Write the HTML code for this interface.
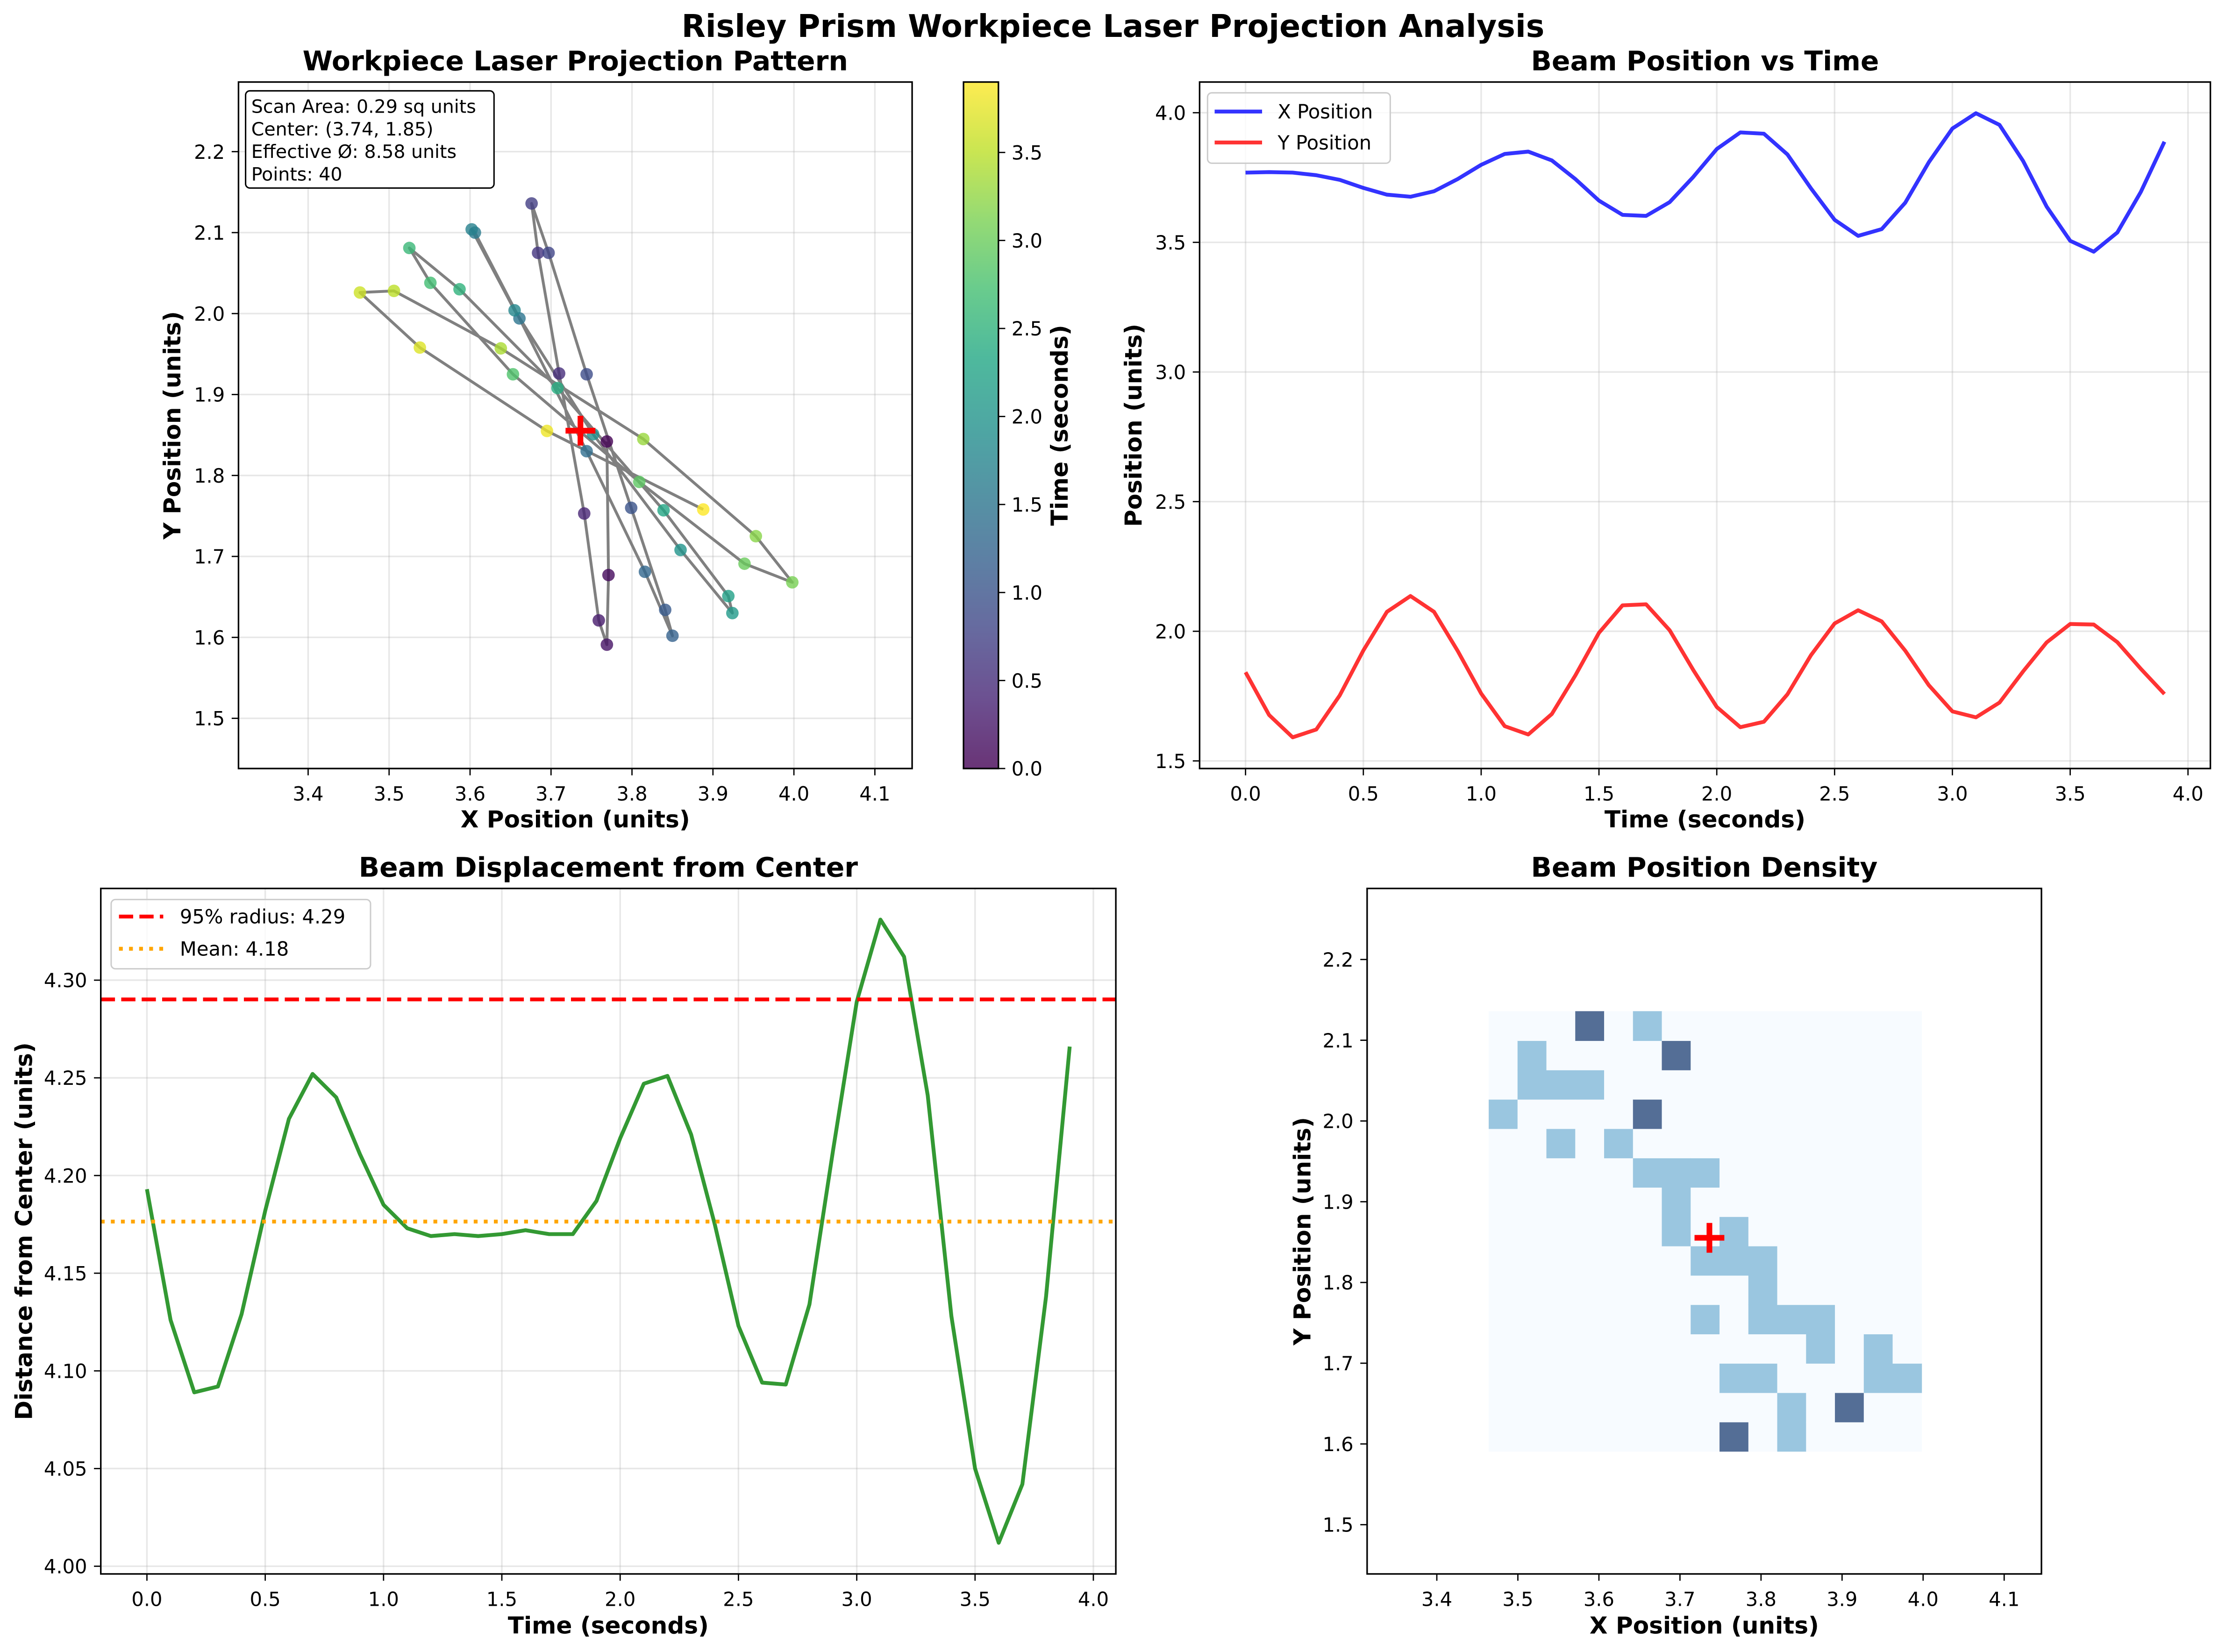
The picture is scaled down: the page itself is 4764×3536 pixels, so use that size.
<!DOCTYPE html>
<html><head><meta charset="utf-8"><title>Risley Prism Workpiece Laser Projection Analysis</title>
<style>
html,body{margin:0;padding:0;background:#fff;}
svg{display:block;}
text{font-family:"DejaVu Sans","Liberation Sans",sans-serif;}
</style></head>
<body>
<svg id="fig" xmlns="http://www.w3.org/2000/svg" width="4764" height="3536" viewBox="0 0 1568 1164" preserveAspectRatio="none">
<rect x="0" y="0" width="1568" height="1164" fill="#fff"/>
<text x="784" y="26" font-size="21.9" font-weight="bold" text-anchor="middle">Risley Prism Workpiece Laser Projection Analysis</text>
</svg>
<script>
// ---- data ----
const times = [0.0,0.1,0.2,0.3,0.4,0.5,0.6,0.7,0.8,0.9,1.0,1.1,1.2,1.3,1.4,1.5,1.6,1.7,1.8,1.9,2.0,2.1,2.2,2.3,2.4,2.5,2.6,2.7,2.8,2.9,3.0,3.1,3.2,3.3,3.4,3.5,3.6,3.7,3.8,3.9];
const xPos = [3.769,3.771,3.769,3.759,3.741,3.710,3.684,3.676,3.697,3.744,3.799,3.841,3.850,3.816,3.744,3.661,3.606,3.602,3.655,3.752,3.860,3.924,3.919,3.839,3.708,3.587,3.525,3.551,3.653,3.809,3.939,3.998,3.953,3.814,3.638,3.506,3.464,3.538,3.695,3.888];
const yPos = [1.842,1.677,1.591,1.621,1.753,1.926,2.075,2.136,2.075,1.925,1.760,1.634,1.602,1.681,1.830,1.994,2.100,2.104,2.004,1.851,1.708,1.630,1.651,1.757,1.908,2.030,2.081,2.038,1.925,1.792,1.691,1.668,1.725,1.845,1.957,2.028,2.026,1.958,1.855,1.758];
const distance = [4.193,4.126,4.089,4.092,4.129,4.182,4.229,4.252,4.240,4.211,4.185,4.173,4.169,4.170,4.169,4.170,4.172,4.170,4.170,4.187,4.219,4.247,4.251,4.221,4.175,4.123,4.094,4.093,4.134,4.213,4.289,4.331,4.312,4.241,4.128,4.050,4.012,4.042,4.138,4.266];
const xyTicks = [3.4,3.5,3.6,3.7,3.8,3.9,4.0,4.1];
const yyTicks = [1.5,1.6,1.7,1.8,1.9,2.0,2.1,2.2];
const timeTicks = [0.0,0.5,1.0,1.5,2.0,2.5,3.0,3.5,4.0];
const posTicks = [1.5,2.0,2.5,3.0,3.5,4.0];
const distTicks = [4.00,4.05,4.10,4.15,4.20,4.25,4.30];
const cbarTicks = [0.0,0.5,1.0,1.5,2.0,2.5,3.0,3.5];
const infoLines = ["Scan Area: 0.29 sq units","Center: (3.74, 1.85)","Effective Ø: 8.58 units","Points: 40"];

// ---- helpers ----
const NS = "http://www.w3.org/2000/svg";
const svg = document.getElementById('fig');
function mk(tag, attrs, parent){
  const e = document.createElementNS(NS, tag);
  for (const k in attrs) e.setAttribute(k, attrs[k]);
  (parent||svg).appendChild(e);
  return e;
}
function scale(d0,d1,p0,p1){ return v => p0 + (v-d0)/(d1-d0)*(p1-p0); }
const VIR = ['#440154','#482475','#414487','#355f8d','#2a788e','#21918c','#22a884','#44bf70','#7ad151','#bddf26','#fde725'];
function hex2rgb(h){return [parseInt(h.substr(1,2),16),parseInt(h.substr(3,2),16),parseInt(h.substr(5,2),16)];}
function viridis(t){
  t=Math.max(0,Math.min(1,t)); const f=t*10; const i=Math.min(9,Math.floor(f)); const r=f-i;
  const a=hex2rgb(VIR[i]), b=hex2rgb(VIR[i+1]);
  return 'rgb('+a.map((c,k)=>Math.round(c+(b[k]-c)*r)).join(',')+')';
}
const mean = a => a.reduce((s,v)=>s+v,0)/a.length;
const TL = 4.8;

function axesFrame(name, L, R, T, B, xt, yt, sx, sy, xfmt, yfmt, grid){
  const g = mk('g', {});
  
  
  if (grid){
    xt.forEach(v=>{ const x=sx(v); if(x>=L&&x<=R){ const l=mk('line',{x1:x,x2:x,y1:T,y2:B,stroke:'#b0b0b0','stroke-opacity':0.3,'stroke-width':1.1},g);
        }});
    yt.forEach(v=>{ const y=sy(v); if(y>=T&&y<=B){ const l=mk('line',{x1:L,x2:R,y1:y,y2:y,stroke:'#b0b0b0','stroke-opacity':0.3,'stroke-width':1.1},g);
        }});
  }
  xt.forEach(v=>{ const x=sx(v);
    mk('line',{x1:x,x2:x,y1:B,y2:B+TL,stroke:'#000','stroke-width':0.9},g);
    const t=mk('text',{x:x,y:B+22.5,'font-size':13.7,'text-anchor':'middle'},g); t.textContent=xfmt(v);
     
  });
  yt.forEach(v=>{ const y=sy(v);
    mk('line',{x1:L-TL,x2:L,y1:y,y2:y,stroke:'#000','stroke-width':0.9},g);
    const t=mk('text',{x:L-9.6,y:y+5,'font-size':13.7,'text-anchor':'end'},g); t.textContent=yfmt(v);
     
  });
  return g;
}
function border(L,R,T,B){
  const r=mk('rect',{x:L,y:T,width:R-L,height:B-T,fill:'none',stroke:'#000','stroke-width':1.1});
   
}
function label(txt,x,y,rot,name,size){
  const t=mk('text',{x:x,y:y,'font-size':size||16.5,'font-weight':'bold','text-anchor':'middle'});
  if(rot) t.setAttribute('transform','rotate(-90 '+x+' '+y+')');
  t.textContent=txt;
   
  return t;
}
function clip(id,L,R,T,B){
  let defs=svg.querySelector('defs'); if(!defs) defs=mk('defs',{});
  const c=mk('clipPath',{id:id},defs); mk('rect',{x:L,y:T,width:R-L,height:B-T},c);
}
const f1 = v=>v.toFixed(1), f2=v=>v.toFixed(2);

// ============ Panel 1: projection pattern ============
(function(){
  const L=168,R=642.5,T=57.8,B=541.5;
  const sx=scale(3.314,4.146,L,R), sy=scale(1.438,2.286,B,T);
  axesFrame('projection-pattern-axes',L,R,T,B,xyTicks,yyTicks,sx,sy,f1,f1,true);
  clip('c1',L,R,T,B);
  const g=mk('g',{'clip-path':'url(#c1)'});
   
  const pts=xPos.map((x,i)=>sx(x).toFixed(2)+','+sy(yPos[i]).toFixed(2)).join(' ');
  const pl=mk('polyline',{points:pts,fill:'none',stroke:'#808080','stroke-width':2,'stroke-opacity':1,'stroke-linejoin':'round'},g);
   
  const tmax=Math.max(...times);
  xPos.forEach((x,i)=>{
    const c=mk('circle',{cx:sx(x),cy:sy(yPos[i]),r:4.4,fill:viridis(times[i]/tmax),'fill-opacity':0.8},g);
     
  });
  const cx=sx(mean(xPos)), cy=sy(mean(yPos));
  const cr=mk('path',{d:`M${cx-10.5},${cy}H${cx+10.5}M${cx},${cy-10.5}V${cy+10.5}`,stroke:'#ff0000','stroke-width':4},g);
   
  border(L,R,T,B);
  const ib=mk('g',{});
   
  mk('rect',{x:173,y:64,width:175,height:68.5,rx:3,fill:'#fff',stroke:'#000','stroke-width':1},ib);
  infoLines.forEach((s,i)=>{ const t=mk('text',{x:177,y:79.5+i*15.9,'font-size':13},ib); t.textContent=s;
      });
  label('Workpiece Laser Projection Pattern',(L+R)/2,49.5,false,'projection-pattern-title',19.2);
  label('X Position (units)',(L+R)/2,583,false,'projection-x-axis-title');
  label('Y Position (units)',127,(T+B)/2,true,'projection-y-axis-title');
  const CL=678.7,CR=703.3;
  const defs=svg.querySelector('defs');
  const lg=mk('linearGradient',{id:'vir',x1:0,y1:1,x2:0,y2:0},defs);
  VIR.forEach((c,i)=>mk('stop',{offset:(i/10),'stop-color':c},lg));
  const cb=mk('rect',{x:CL,y:T,width:CR-CL,height:B-T,fill:'url(#vir)','fill-opacity':0.8,stroke:'#000','stroke-width':1.1});
   
  const cs=scale(0,tmax,B,T);
  cbarTicks.forEach(v=>{ const y=cs(v);
    mk('line',{x1:CR,x2:CR+TL,y1:y,y2:y,stroke:'#000','stroke-width':0.9});
    const t=mk('text',{x:712.5,y:y+5,'font-size':13.7}); t.textContent=f1(v);
     
  });
  label('Time (seconds)',752,(T+B)/2,true,'colorbar-title');
})();

// ============ Panel 2: position vs time ============
(function(){
  const L=845,R=1557,T=57.8,B=541.5;
  const all=xPos.concat(yPos); const mn=Math.min(...all), mx=Math.max(...all), pad=(mx-mn)*0.05;
  const tmn=Math.min(...times), tmx=Math.max(...times), tp=(tmx-tmn)*0.05;
  const sx=scale(tmn-tp,tmx+tp,L,R), sy=scale(mn-pad,mx+pad,B,T);
  axesFrame('position-time-axes',L,R,T,B,timeTicks,posTicks,sx,sy,f1,f1,true);
  clip('c2',L,R,T,B);
  const g=mk('g',{'clip-path':'url(#c2)'});
  const lx=mk('polyline',{points:times.map((t,i)=>sx(t)+','+sy(xPos[i])).join(' '),fill:'none',stroke:'#0000ff','stroke-opacity':0.8,'stroke-width':2.7,'stroke-linejoin':'round'},g);
   
  const ly=mk('polyline',{points:times.map((t,i)=>sx(t)+','+sy(yPos[i])).join(' '),fill:'none',stroke:'#ff0000','stroke-opacity':0.8,'stroke-width':2.7,'stroke-linejoin':'round'},g);
   
  border(L,R,T,B);
  const lg=mk('g',{});
   
  mk('rect',{x:850.6,y:65.4,width:128.7,height:49.6,rx:3,fill:'#fff','fill-opacity':0.8,stroke:'#cccccc','stroke-width':1},lg);
  mk('line',{x1:855.6,x2:889,y1:78.6,y2:78.6,stroke:'#0000ff','stroke-opacity':0.8,'stroke-width':2.7},lg);
  mk('line',{x1:855.6,x2:889,y1:100.4,y2:100.4,stroke:'#ff0000','stroke-opacity':0.8,'stroke-width':2.7},lg);
  const a=mk('text',{x:900,y:83.5,'font-size':13.7},lg); a.textContent='X Position';
   
  const b=mk('text',{x:900,y:105.3,'font-size':13.7},lg); b.textContent='Y Position';
   
  label('Beam Position vs Time',(L+R)/2,49.5,false,'position-time-title',19.2);
  label('Time (seconds)',(L+R)/2,583,false,'position-time-x-axis-title');
  label('Position (units)',804,(T+B)/2,true,'position-time-y-axis-title');
})();

// ============ Panel 3: displacement ============
(function(){
  const L=71,R=786,T=626,B=1109;
  const mn=Math.min(...distance), mx=Math.max(...distance), pad=(mx-mn)*0.05;
  const tmn=Math.min(...times), tmx=Math.max(...times), tp=(tmx-tmn)*0.05;
  const sx=scale(tmn-tp,tmx+tp,L,R), sy=scale(mn-pad,mx+pad,B,T);
  axesFrame('displacement-axes',L,R,T,B,timeTicks,distTicks,sx,sy,f1,f2,true);
  clip('c3',L,R,T,B);
  const g=mk('g',{'clip-path':'url(#c3)'});
  const s=[...distance].sort((a,b)=>a-b); const pos=0.95*(s.length-1); const lo=Math.floor(pos);
  const p95=s[lo]+(s[lo+1]-s[lo])*(pos-lo); const mu=mean(distance);
  const dl=mk('polyline',{points:times.map((t,i)=>sx(t)+','+sy(distance[i])).join(' '),fill:'none',stroke:'#008000','stroke-opacity':0.8,'stroke-width':2.7,'stroke-linejoin':'round'},g);
   
  const r1=mk('line',{x1:L,x2:R,y1:sy(p95),y2:sy(p95),stroke:'#ff0000','stroke-width':2.7,'stroke-dasharray':'10 4.4'},g);
   
  const r2=mk('line',{x1:L,x2:R,y1:sy(mu),y2:sy(mu),stroke:'#ffa500','stroke-width':2.7,'stroke-dasharray':'2.7 4.4'},g);
   
  border(L,R,T,B);
  const lg=mk('g',{});
   
  mk('rect',{x:78.3,y:633.8,width:182.7,height:48.8,rx:3,fill:'#fff','fill-opacity':0.8,stroke:'#cccccc','stroke-width':1},lg);
  mk('line',{x1:83.8,x2:115,y1:645.8,y2:645.8,stroke:'#ff0000','stroke-width':2.7,'stroke-dasharray':'10 4.4'},lg);
  mk('line',{x1:83.8,x2:115,y1:668.5,y2:668.5,stroke:'#ffa500','stroke-width':2.7,'stroke-dasharray':'2.7 4.4'},lg);
  const a=mk('text',{x:126.7,y:650.7,'font-size':13.7},lg); a.textContent='95% radius: '+p95.toFixed(2);
   
  const b=mk('text',{x:126.7,y:673.4,'font-size':13.7},lg); b.textContent='Mean: '+mu.toFixed(2);
   
  label('Beam Displacement from Center',(L+R)/2,617.8,false,'displacement-title',19.2);
  label('Time (seconds)',(L+R)/2,1151,false,'displacement-x-axis-title');
  label('Distance from Center (units)',22.5,(T+B)/2,true,'displacement-y-axis-title');
})();

// ============ Panel 4: density ============
(function(){
  const L=963,R=1438,T=626,B=1109;
  const sx=scale(3.314,4.146,L,R), sy=scale(1.439,2.288,B,T);
  axesFrame('density-axes',L,R,T,B,xyTicks,yyTicks,sx,sy,f1,f1,false);
  const NB=15;
  const x0=Math.min(...xPos), x1=Math.max(...xPos), y0=Math.min(...yPos), y1=Math.max(...yPos);
  const counts=[]; for(let i=0;i<NB;i++){counts.push(new Array(NB).fill(0));}
  xPos.forEach((x,k)=>{ let i=Math.floor((x-x0)/(x1-x0)*NB); if(i>=NB)i=NB-1; let j=Math.floor((yPos[k]-y0)/(y1-y0)*NB); if(j>=NB)j=NB-1; counts[i][j]++; });
  const cmax=Math.max(...counts.map(r=>Math.max(...r)));
  const g=mk('g',{});
   
  const dx=(x1-x0)/NB, dy=(y1-y0)/NB;
  const cols=['#f7fbff','#9ac6e0','#546e96'];
  for(let i=0;i<NB;i++) for(let j=0;j<NB;j++){
    const c=counts[i][j]; const lvl=Math.round(c/cmax*2);
    const xa=sx(x0+i*dx), xb=sx(x0+(i+1)*dx), ya=sy(y0+(j+1)*dy), yb=sy(y0+j*dy);
    const r=mk('rect',{x:xa,y:ya,width:xb-xa+0.3,height:yb-ya+0.3,fill:cols[Math.min(2,lvl)]},g);
     
  }
  const cx=sx(mean(xPos)), cy=sy(mean(yPos));
  const cr=mk('path',{d:`M${cx-10.5},${cy}H${cx+10.5}M${cx},${cy-10.5}V${cy+10.5}`,stroke:'#ff0000','stroke-width':4});
   
  border(L,R,T,B);
  label('Beam Position Density',(L+R)/2,617.8,false,'density-title',19.2);
  label('X Position (units)',(L+R)/2,1151,false,'density-x-axis-title');
  label('Y Position (units)',923,(T+B)/2,true,'density-y-axis-title');
})();
</script>
</body></html>
